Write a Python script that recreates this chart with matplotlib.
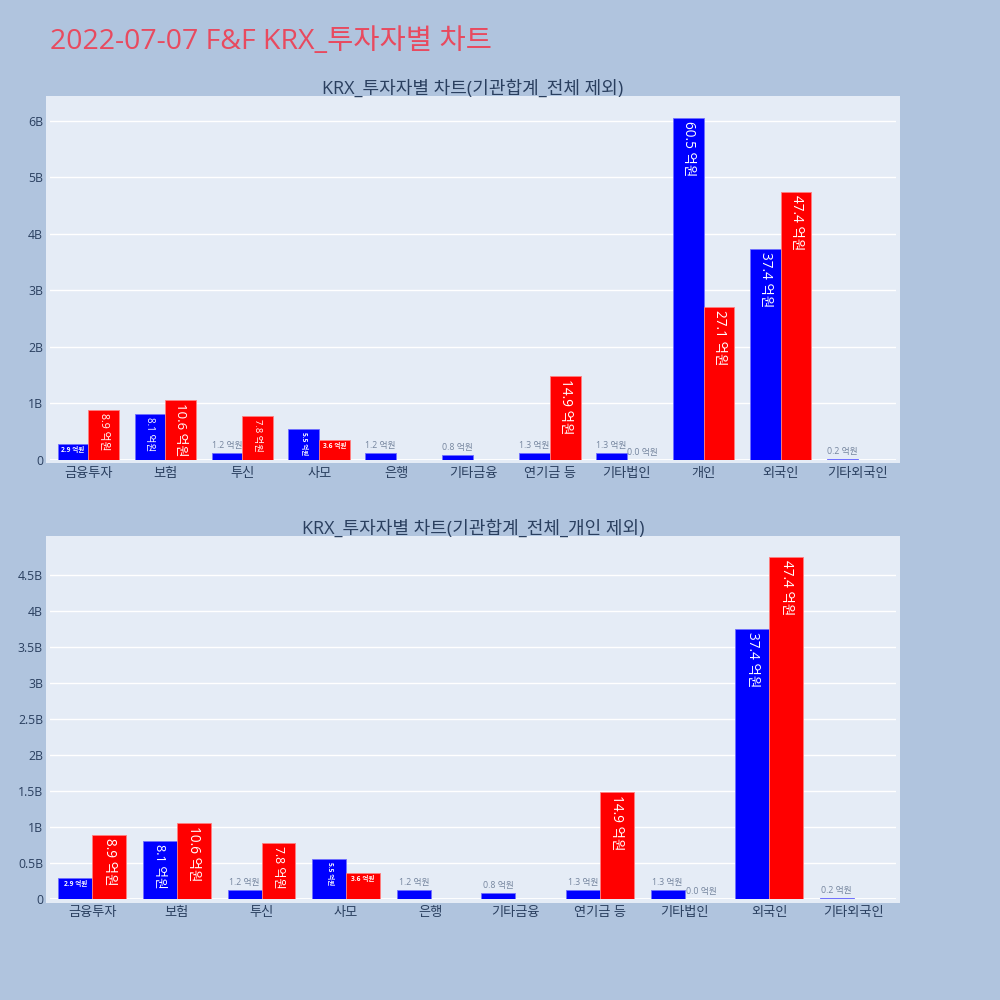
import matplotlib
matplotlib.use("Agg")
import matplotlib.pyplot as plt
from matplotlib.patches import Rectangle
from matplotlib.ticker import FuncFormatter, MultipleLocator
import numpy as np

plt.rcParams['font.family'] = ['Open Sans', 'Noto Sans CJK KR', 'DejaVu Sans']

# ---- data (억원) ----
categories = ['금융투자', '보험', '투신', '사모', '은행', '기타금융', '연기금 등', '기타법인', '개인', '외국인', '기타외국인']
buy_values = [2.9, 8.1, 1.2, 5.5, 1.2, 0.8, 1.3, 1.3, 60.5, 37.4, 0.2]
sell_values = [8.9, 10.6, 7.8, 3.6, None, None, 14.9, 0.004, 27.1, 47.4, None]
title_text = '2022-07-07 F&F KRX_투자자별 차트'
sub_titles = ['KRX_투자자별 차트(기관합계_전체 제외)', 'KRX_투자자별 차트(기관합계_전체_개인 제외)']
EOK = 1e8

BG = '#B0C4DE'
PLOT_BG = '#E5ECF6'
FONT_C = '#2a3f5f'

fig = plt.figure(figsize=(10, 10), dpi=100, facecolor=BG)
fig.text(0.050, 0.958, title_text, color='#E84A5F', fontsize=20.5, ha='left', va='center')


def fmt(v, pos):
    if v == 0:
        return '0'
    return f'{v/1e9:g}B'


def draw_label(ax, x, v, px_per_unit):
    if v is None:
        return
    y = v * EOK
    txt = f'{v:.1f} 억원'
    if v >= 7:
        h_px = y * px_per_unit
        fs = min(9.8, 9.8 * (h_px - 5) / 57.0) if len(txt) <= 7 else min(9.8, 9.8 * (h_px - 5) / 63.0)
        ax.annotate(txt, (x, y), xytext=(0, -3), textcoords='offset pixels', rotation=-90,
                    ha='center', va='top', color='white', fontsize=fs, zorder=5)
    elif v >= 4.5:
        ax.annotate(txt, (x, y), xytext=(0, -3), textcoords='offset pixels', rotation=-90,
                    ha='center', va='top', color='white', fontsize=4.8, fontweight='bold', zorder=5)
    elif v >= 2.5:
        ax.annotate(txt, (x, y), xytext=(0, -3), textcoords='offset pixels',
                    ha='center', va='top', color='white', fontsize=4.8, fontweight='bold', zorder=5)
    else:
        ax.annotate(txt, (x, y), xytext=(0, 3), textcoords='offset pixels',
                    ha='center', va='bottom', color='#75859e', fontsize=6.3, zorder=5)


def panel(rect_axes, rect_bg, cats, buys, sells, ylim, major, subtitle):
    l, b, w, h = rect_bg
    fig.patches.append(Rectangle((l, b), w, h, transform=fig.transFigure, facecolor=PLOT_BG,
                                 edgecolor='none', zorder=-5))
    ax = fig.add_axes(rect_axes)
    ax.set_facecolor('none')
    ax.set_zorder(1)
    n = len(cats)
    xs = np.arange(n)
    bw = 0.4
    px_per_unit = rect_axes[3] * 1000 / (ylim[1] - ylim[0])
    for i in range(n):
        if buys[i] is not None:
            ax.bar(xs[i] - bw / 2, buys[i] * EOK, width=bw, color='#0000FF',
                   edgecolor='#7070ff', linewidth=0.6, zorder=3)
        if sells[i] is not None:
            ax.bar(xs[i] + bw / 2, sells[i] * EOK, width=bw, color='#FF0000',
                   edgecolor='#ff8080', linewidth=0.6, zorder=3)
    for i in range(n):
        draw_label(ax, xs[i] - bw / 2, buys[i], px_per_unit)
        draw_label(ax, xs[i] + bw / 2, sells[i], px_per_unit)
    ax.set_xlim(-0.5, n - 0.5)
    ax.set_ylim(*ylim)
    ax.yaxis.set_major_locator(MultipleLocator(major))
    ax.yaxis.set_major_formatter(FuncFormatter(fmt))
    ax.set_xticks(xs)
    ax.set_xticklabels(cats)
    ax.grid(axis='y', color='white', linewidth=1, zorder=1)
    ax.axhline(0, color='white', linewidth=2, zorder=2)
    for s in ax.spines.values():
        s.set_visible(False)
    ax.tick_params(axis='both', length=0, colors=FONT_C, labelsize=9.5)
    ax.tick_params(axis='x', pad=5)
    ax.tick_params(axis='y', pad=5)
    for t in ax.get_yticklabels():
        t.set_fontsize(8.8)
    ax.set_axisbelow(True)
    fig.text(l + w / 2, b + h - 0.002, subtitle, ha='center', va='bottom', color=FONT_C, fontsize=13)
    return ax


panel([0.050, 0.540, 0.846, 0.360], [0.046, 0.537, 0.854, 0.367],
      categories, buy_values, sell_values, (0, 6.37e9), 1e9, sub_titles[0])

idx = [i for i, c in enumerate(categories) if c != '개인']
panel([0.050, 0.101, 0.846, 0.359], [0.046, 0.097, 0.854, 0.367],
      [categories[i] for i in idx], [buy_values[i] for i in idx], [sell_values[i] for i in idx],
      (0, 4.98e9), 0.5e9, sub_titles[1])

fig.savefig('out.png', dpi=100, facecolor=BG)
